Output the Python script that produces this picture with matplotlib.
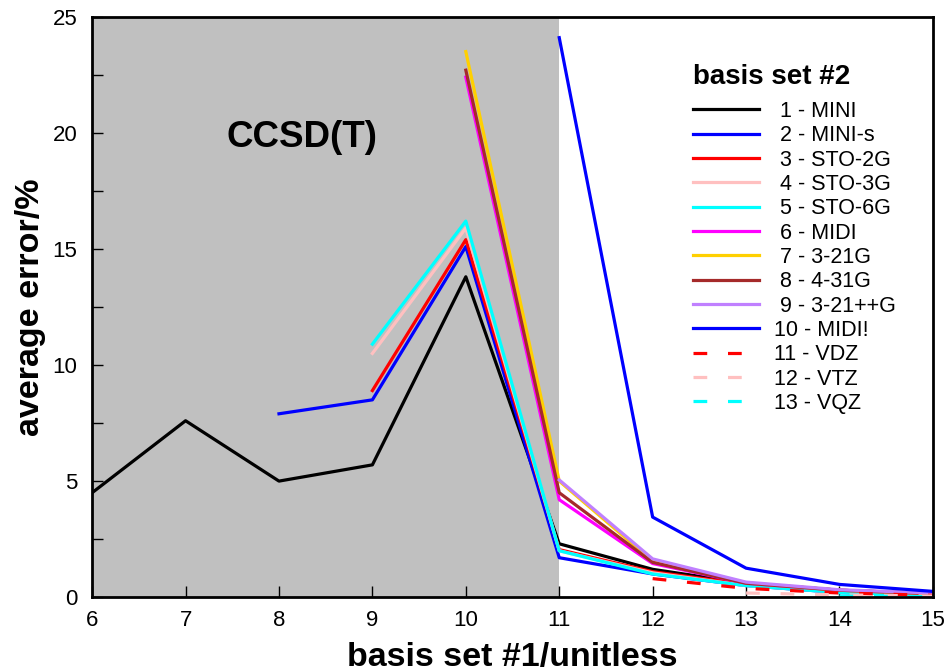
import matplotlib.pyplot as plt
from matplotlib.ticker import MultipleLocator

plt.rcParams['font.family'] = ['Liberation Sans', 'DejaVu Sans']

# basis set #1 positions for each series, and average error values
x_mini = [6, 7, 8, 9, 10, 11, 12, 13, 14, 15]
y_mini = [4.5, 7.6, 5.0, 5.7, 13.8, 2.3, 1.2, 0.6, 0.3, 0.15]
x_minis = [8, 9, 10, 11, 12, 13, 14, 15]
y_minis = [7.9, 8.5, 15.1, 1.7, 1.0, 0.5, 0.2, 0.1]
x_sto2g = [9, 10, 11, 12, 13, 14, 15]
y_sto2g = [8.9, 15.4, 2.05, 1.1, 0.55, 0.25, 0.12]
x_sto3g = [9, 10, 11, 12, 13, 14, 15]
y_sto3g = [10.5, 15.9, 2.0, 1.05, 0.5, 0.22, 0.1]
x_sto6g = [9, 10, 11, 12, 13, 14, 15]
y_sto6g = [10.9, 16.2, 2.0, 1.0, 0.5, 0.2, 0.1]
x_midi = [10, 11, 12, 13, 14, 15]
y_midi = [22.4, 4.2, 1.45, 0.6, 0.3, 0.15]
x_321g = [10, 11, 12, 13, 14, 15]
y_321g = [23.5, 5.0, 1.55, 0.62, 0.3, 0.15]
x_431g = [10, 11, 12, 13, 14, 15]
y_431g = [22.7, 4.5, 1.5, 0.6, 0.3, 0.15]
x_321ppg = [11, 12, 13, 14, 15]
y_321ppg = [5.05, 1.65, 0.65, 0.32, 0.18]
x_midi2 = [11, 12, 13, 14, 15]
y_midi2 = [24.1, 3.45, 1.25, 0.55, 0.25]
x_vdz = [12, 13, 14, 15]
y_vdz = [0.8, 0.38, 0.18, 0.08]
x_vtz = [13, 14, 15]
y_vtz = [0.18, 0.1, 0.05]
x_vqz = [14, 15]
y_vqz = [0.05, 0.02]

fig = plt.figure(figsize=(9.5, 6.71), dpi=100)
ax = fig.add_axes([0.097, 0.110, 0.885, 0.865])

ax.axvspan(6, 11, color='#c0c0c0', zorder=0, lw=0)

lw = 2.3
ax.plot(x_mini, y_mini, color='black', lw=lw, label=' 1 - MINI')
ax.plot(x_minis, y_minis, color='#0000ff', lw=lw, label=' 2 - MINI-s')
ax.plot(x_sto2g, y_sto2g, color='#ff0000', lw=lw, label=' 3 - STO-2G')
ax.plot(x_sto3g, y_sto3g, color='#ffc0c0', lw=lw, label=' 4 - STO-3G')
ax.plot(x_sto6g, y_sto6g, color='#00ffff', lw=lw, label=' 5 - STO-6G')
ax.plot(x_midi, y_midi, color='#ff00ff', lw=lw, label=' 6 - MIDI')
ax.plot(x_321g, y_321g, color='#ffd000', lw=lw, label=' 7 - 3-21G')
ax.plot(x_431g, y_431g, color='#a52a2a', lw=lw, label=' 8 - 4-31G')
ax.plot(x_321ppg, y_321ppg, color='#c080ff', lw=lw, label=' 9 - 3-21++G')
ax.plot(x_midi2, y_midi2, color='#0000ff', lw=lw, label='10 - MIDI!')
ax.plot(x_vdz, y_vdz, color='#ff0000', lw=lw, dashes=(4.3, 6.5), label='11 - VDZ')
ax.plot(x_vtz, y_vtz, color='#ffc0c0', lw=lw, dashes=(4.3, 6.5), label='12 - VTZ')
ax.plot(x_vqz, y_vqz, color='#00ffff', lw=lw, dashes=(4.3, 6.5), label='13 - VQZ')

ax.text(8.25, 19.8, 'CCSD(T)', fontsize=26.5, fontweight='bold', ha='center', va='center')

ax.set_xlim(6, 15)
ax.set_ylim(0, 25)
ax.xaxis.set_major_locator(MultipleLocator(1))
ax.yaxis.set_major_locator(MultipleLocator(5))
ax.yaxis.set_minor_locator(MultipleLocator(2.5))
ax.tick_params(direction='in', length=8, width=1, labelsize=16, top=False, right=False)
ax.tick_params(which='minor', direction='in', length=8, width=1)
ax.tick_params(axis='x', pad=9)
ax.tick_params(axis='y', pad=10.5)
for s in ax.spines.values():
    s.set_linewidth(2)
    s.set_zorder(5)

ax.set_xlabel('basis set #1/unitless', fontsize=24.5, fontweight='bold', labelpad=8)
ax.set_ylabel('average error/%', fontsize=24.5, fontweight='bold', labelpad=5)

leg = ax.legend(loc='upper left', bbox_to_anchor=(0.7295, 0.904), bbox_transform=fig.transFigure,
                frameon=False, borderpad=0, borderaxespad=0,
                fontsize=15.5, handlelength=3.05, handletextpad=0.72, labelspacing=0.155,
                title='basis set #2', title_fontproperties={'weight': 'bold', 'size': 20})
leg._legend_box.align = 'left'
leg._legend_box.sep = 7.5

fig.savefig('out.png', dpi=100)
